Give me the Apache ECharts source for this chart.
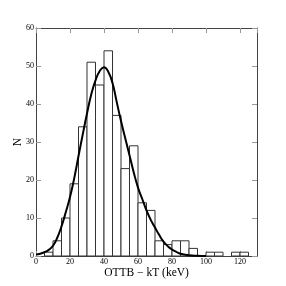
<!DOCTYPE html>
<html>
<head>
<meta charset="utf-8">
<script src="https://cdn.jsdelivr.net/npm/echarts@6/dist/echarts.min.js"></script>
<style>
html,body{margin:0;padding:0;background:#fff;}
#c{width:286px;height:286px;}
</style>
</head>
<body>
<div id="c"></div>
<script>
// Histogram bins (left edges, 5 keV wide) and counts
const binStarts = [5, 10, 15, 20, 25, 30, 35, 40, 45, 50, 55, 60, 65, 70, 75, 80, 85, 90, 100, 105, 115, 120];
const binCounts = [1, 4, 10, 19, 34, 51, 45, 54, 37, 23, 29, 14, 12, 4, 3, 4, 4, 2, 1, 1, 1, 1];
const binWidth = 5;

// Fitted curve
const curveX = [0, 2.5, 5, 7.5, 10, 12.5, 15, 17.5, 20, 22.5, 25, 27.5, 30, 32.5, 35, 37.5, 40, 42.5, 45, 47.5, 50, 52.5, 55, 57.5, 60, 62.5, 65, 67.5, 70, 72.5, 75, 77.5, 80, 82.5, 85, 90, 95, 100];
const curveY = [0.4, 0.6, 1.0, 1.6, 2.7, 4.8, 7.8, 11.5, 15.5, 20.5, 26.3, 32, 37.5, 42.5, 46.2, 48.7, 49.7, 48.5, 45.5, 40.5, 35.5, 31, 26.5, 22, 18, 15, 12, 9.5, 7.5, 5.5, 3.8, 2.6, 1.7, 1.1, 0.6, 0.2, 0.05, 0];

const xTicks = {min: 0, max: 130, interval: 20};
const yTicks = {min: 0, max: 60, interval: 10};

const histData = binStarts.map((s, i) => [s, s + binWidth, binCounts[i]]);
const curveData = curveX.map((x, i) => [x, curveY[i]]);

const serif = '"Liberation Serif", "DejaVu Serif", serif';
const frameColor = '#444';
const tickColor = '#999';

const chart = echarts.init(document.getElementById('c'), null, {renderer: 'canvas'});
chart.setOption({
  animation: false,
  backgroundColor: '#fff',
  grid: {left: 36, right: 29, top: 28, bottom: 30, containLabel: false, outerBoundsMode: 'none'},
  xAxis: [{
    type: 'value', min: xTicks.min, max: xTicks.max, interval: xTicks.interval,
    position: 'bottom',
    name: 'OTTB \u2212 kT (keV)', nameLocation: 'middle', nameGap: 11, nameMoveOverlap: false,
    nameTextStyle: {fontFamily: serif, fontSize: 11.5, color: '#000'},
    axisLine: {show: true, onZero: false, lineStyle: {color: frameColor, width: 1}},
    axisTick: {show: true, inside: true, length: 5, lineStyle: {color: tickColor}},
    axisLabel: {fontFamily: serif, fontSize: 8, color: '#000', margin: 2, showMaxLabel: false},
    splitLine: {show: false}
  }, {
    type: 'value', min: xTicks.min, max: xTicks.max, interval: xTicks.interval,
    position: 'top',
    axisLine: {show: true, onZero: false, lineStyle: {color: frameColor, width: 1}},
    axisTick: {show: true, inside: true, length: 5, lineStyle: {color: tickColor}},
    axisLabel: {show: false},
    splitLine: {show: false}
  }],
  yAxis: [{
    type: 'value', min: yTicks.min, max: yTicks.max, interval: yTicks.interval,
    position: 'left',
    name: 'N', nameLocation: 'middle', nameGap: 12, nameRotate: 90, nameMoveOverlap: false,
    nameTextStyle: {fontFamily: serif, fontSize: 11.5, color: '#000'},
    axisLine: {show: true, onZero: false, lineStyle: {color: frameColor, width: 1}},
    axisTick: {show: true, inside: true, length: 5, lineStyle: {color: tickColor}},
    axisLabel: {fontFamily: serif, fontSize: 8, color: '#000', margin: 2},
    splitLine: {show: false}
  }, {
    type: 'value', min: yTicks.min, max: yTicks.max, interval: yTicks.interval,
    position: 'right',
    axisLine: {show: true, onZero: false, lineStyle: {color: frameColor, width: 1}},
    axisTick: {show: true, inside: true, length: 5, lineStyle: {color: tickColor}},
    axisLabel: {show: false},
    splitLine: {show: false}
  }],
  series: [{
    type: 'custom',
    xAxisIndex: 0, yAxisIndex: 0,
    data: histData,
    encode: {x: [0, 1], y: 2},
    renderItem: function (params, api) {
      const p0 = api.coord([api.value(0), api.value(2)]);
      const p1 = api.coord([api.value(1), 0]);
      return {
        type: 'rect',
        shape: {x: p0[0], y: p0[1], width: p1[0] - p0[0], height: p1[1] - p0[1]},
        style: {fill: '#fff', stroke: '#333', lineWidth: 1}
      };
    },
    z: 2
  }, {
    type: 'line',
    xAxisIndex: 0, yAxisIndex: 0,
    data: curveData,
    smooth: true,
    showSymbol: false,
    lineStyle: {color: '#000', width: 2},
    z: 3
  }]
});
</script>
</body>
</html>
